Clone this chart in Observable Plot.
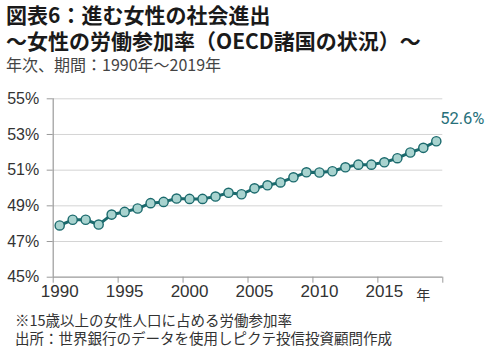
<!DOCTYPE html>
<html>
<head>
<meta charset="utf-8">
<script src="https://cdn.jsdelivr.net/npm/d3@7"></script>
<script src="https://cdn.jsdelivr.net/npm/@observablehq/plot@0.6"></script>
<style>
  html, body { margin: 0; padding: 0; background: #fff; }
  #wrap { position: relative; width: 499px; height: 356px; overflow: hidden; font-family: "Noto Sans CJK JP", sans-serif; }
  .t { position: absolute; left: 6px; white-space: nowrap; }
  #t1 { top: 2px; font-size: 21px; line-height: 24px; font-weight: 700; color: #1a1a1a; }
  #t2 { top: 28px; font-size: 21px; line-height: 24px; font-weight: 700; color: #1a1a1a; }
  #t3 { top: 55px; font-size: 16px; line-height: 18px; color: #444; }
  #f1 { top: 311px; left: 15px; font-size: 14.5px; line-height: 17px; color: #333; }
  #f2 { top: 329px; left: 15px; font-size: 14.5px; line-height: 17px; color: #333; }
  #chart { position: absolute; left: 0; top: 85px; }
</style>
</head>
<body>
<div id="wrap">
  <div class="t" id="t1">図表6：進む女性の社会進出</div>
  <div class="t" id="t2">～女性の労働参加率（OECD諸国の状況）～</div>
  <div class="t" id="t3">年次、期間：1990年～2019年</div>
  <div id="chart"></div>
  <div class="t" id="f1">※15歳以上の女性人口に占める労働参加率</div>
  <div class="t" id="f2">出所：世界銀行のデータを使用しピクテ投信投資顧問作成</div>
</div>
<script>
const years = [1990, 1991, 1992, 1993, 1994, 1995, 1996, 1997, 1998, 1999,
               2000, 2001, 2002, 2003, 2004, 2005, 2006, 2007, 2008, 2009,
               2010, 2011, 2012, 2013, 2014, 2015, 2016, 2017, 2018, 2019];
const rates = [47.90, 48.22, 48.22, 47.95, 48.51, 48.66, 48.85, 49.15, 49.22, 49.41,
               49.39, 49.39, 49.52, 49.73, 49.65, 49.98, 50.15, 50.31, 50.60, 50.88,
               50.87, 50.94, 51.16, 51.31, 51.31, 51.44, 51.67, 51.99, 52.25, 52.62];
const yTicks = [45, 47, 49, 51, 53, 55];
const xTickBounds = [1990, 1995, 2000, 2005, 2010, 2015, 2020];
const xTickLabels = [1990, 1995, 2000, 2005, 2010, 2015];
const xUnitLabel = "年";
const endLabel = "52.6%";

const data = years.map((year, i) => ({year, rate: rates[i]}));
const mid = d => d.year + 0.5;

const teal = "#1b6a6d";
const fill = "#a8d3cf";
const axisColor = "#9a9a9a";

const chart = Plot.plot({
  width: 499,
  height: 225,
  marginLeft: 52.7,
  marginRight: 56.7,
  marginTop: 13.3,
  marginBottom: 33.3,
  style: {fontFamily: "'Liberation Sans', Arial, sans-serif", fontSize: "16px", color: "#333", background: "transparent"},
  x: {type: "linear", domain: [1990, 2020], label: null},
  y: {domain: [45, 55], label: null},
  marks: [
    Plot.gridY(yTicks.filter(v => v !== 45), {stroke: "#d4d4d4", strokeOpacity: 1, strokeWidth: 1}),
    Plot.ruleX([1990], {stroke: axisColor, strokeWidth: 1.2}),
    Plot.ruleY([45], {stroke: axisColor, strokeWidth: 1.2}),
    Plot.axisY({ticks: yTicks, tickFormat: d => d + "%", tickSize: 6, tickPadding: 8, stroke: axisColor, fill: "#333", fontSize: 16, label: null}),
    Plot.axisX({ticks: xTickBounds, tickFormat: () => "", tickSize: 6, stroke: axisColor, label: null}),
    Plot.axisX(xTickLabels.map(v => v + 0.5), {tickSize: 0, tickPadding: 8, tickFormat: d => String(Math.floor(d)), fill: "#333", fontSize: 17, fontFamily: "'Liberation Sans', Arial, sans-serif", label: null}),
    Plot.text([xUnitLabel], {x: 2018.5, y: 45, text: d => d, dy: 18, fontSize: 14, fill: "#333", fontFamily: "'Noto Sans CJK JP', sans-serif"}),
    Plot.line(data, {x: mid, y: "rate", stroke: teal, strokeWidth: 3}),
    Plot.dot(data, {x: mid, y: "rate", r: 4.6, fill: fill, stroke: teal, strokeWidth: 1.4}),
    Plot.text(data.slice(-1), {x: mid, y: "rate", text: () => endLabel, dx: 26, dy: -23, fill: "#27707a", fontSize: 16.5, fontFamily: "Roboto, sans-serif"})
  ]
});
document.getElementById("chart").appendChild(chart);
</script>
</body>
</html>
